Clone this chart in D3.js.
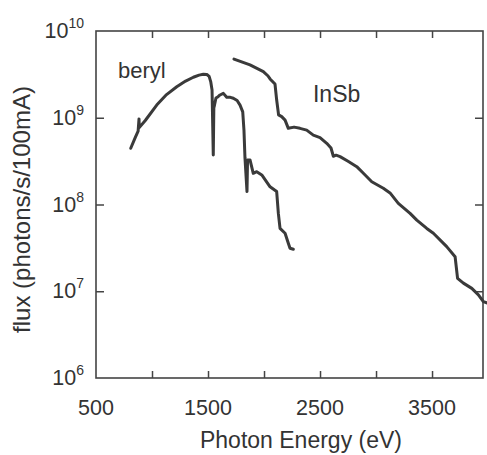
<!DOCTYPE html>
<html>
<head>
<meta charset="utf-8">
<script src="https://cdn.jsdelivr.net/npm/d3@7"></script>
<style>
	body { margin: 0; background: #fff; }
	svg { display: block; font-family: "Liberation Sans", Arial, Helvetica, sans-serif; }
	.axis line { stroke: #444; stroke-width: 1.5; }
	.axis path { display: none; }
	.tick-label { fill: #333; font-size: 21.5px; }
	.curve { fill: none; stroke: #3a3a3a; stroke-width: 3; stroke-linejoin: round; stroke-linecap: round; }
</style>
</head>
<body>
<div id="chart"></div>
<script>

// beryl crystal
const berylEnergy = [810, 850, 876, 884, 886, 940, 1042, 1130, 1221, 1300, 1369, 1420, 1458, 1490, 1510, 1524, 1536, 1547, 1552, 1558,
	1571, 1590, 1607, 1637, 1667, 1700, 1726, 1760, 1786, 1810, 1821, 1830, 1848, 1853, 1875, 1904, 1935, 1980, 2054, 2113,
	2128, 2143, 2188, 2217, 2232, 2262];
const berylFlux = [4.45e8, 5.9e8, 7.0e8, 9.7e8, 7.7e8, 9.3e8, 1.40e9, 1.85e9, 2.28e9, 2.65e9, 2.93e9, 3.1e9, 3.17e9, 3.15e9, 3.0e9, 2.61e9, 2.09e9, 3.72e8, 1.3e9, 1.40e9,
	1.69e9, 1.75e9, 1.83e9, 1.91e9, 1.72e9, 1.72e9, 1.68e9, 1.58e9, 1.40e9, 1.17e9, 7.2e8, 3.44e8, 1.41e8, 3.26e8, 3.26e8, 2.29e8, 2.39e8, 2.19e8, 1.60e8, 1.41e8,
	7.9e7, 5.3e7, 4.66e7, 3.57e7, 3.13e7, 3.05e7];

// InSb crystal
const insbEnergy = [1732, 1875, 1994, 2036, 2054, 2098, 2113, 2130, 2158, 2188, 2217, 2268, 2321, 2381, 2440, 2500, 2560, 2598, 2619, 2643,
	2679, 2750, 2828, 2887, 2962, 3065, 3125, 3199, 3304, 3364, 3453, 3512, 3631, 3706, 3728, 3780, 3855, 3914, 3958, 3994];
const insbFlux = [4.75e9, 4.06e9, 3.40e9, 3.03e9, 2.80e9, 2.45e9, 1.60e9, 1.08e9, 1.03e9, 9.4e8, 7.55e8, 7.8e8, 7.55e8, 7.2e8, 6.3e8, 5.9e8, 5.07e8, 4.48e8, 3.6e8, 3.7e8,
	3.56e8, 3.15e8, 2.73e8, 2.29e8, 1.83e8, 1.54e8, 1.36e8, 1.03e8, 7.9e7, 6.6e7, 5.3e7, 4.66e7, 3.27e7, 2.50e7, 1.41e7, 1.24e7, 1.08e7, 9.1e6, 7.6e6, 7.3e6];

// axes
const xDomain = [500, 3955];
const xTicks = [1000, 1500, 2000, 2500, 3000, 3500];
const xTickLabels = [500, 1500, 2500, 3500];
const yDomain = [1e6, 1e10];
const yTicks = [1e7, 1e8, 1e9];
const yTickLabels = [1e6, 1e7, 1e8, 1e9, 1e10];

// curve names, placed in data units
const seriesLabels = [
	{name: "beryl", energy: 696, flux: 2.87e9, size: 22},
	{name: "InSb", energy: 2437, flux: 1.52e9, size: 23}
];

const margin = {top: 31, right: 4, bottom: 77, left: 96};
const width = 487 - margin.left - margin.right;
const height = 455 - margin.top - margin.bottom;

const svg = d3.select("#chart").append("svg")
	.attr("width", width + margin.left + margin.right)
	.attr("height", height + margin.top + margin.bottom)
	.append("g")
	.attr("transform", "translate(" + margin.left + "," + margin.top + ")");

const x = d3.scaleLinear().domain(xDomain).range([0, width]);
const y = d3.scaleLog().domain(yDomain).range([height, 0]);

// inward ticks on all four sides
svg.append("g").attr("class", "axis")
	.attr("transform", "translate(0," + height + ")")
	.call(d3.axisBottom(x).tickValues(xTicks).tickSize(-7).tickFormat(""));
svg.append("g").attr("class", "axis")
	.call(d3.axisTop(x).tickValues(xTicks).tickSize(-7).tickFormat(""));
svg.append("g").attr("class", "axis")
	.call(d3.axisLeft(y).tickValues(yTicks).tickSize(-8).tickFormat(""));
svg.append("g").attr("class", "axis")
	.attr("transform", "translate(" + width + ",0)")
	.call(d3.axisRight(y).tickValues(yTicks).tickSize(-8).tickFormat(""));

// frame
svg.append("rect")
	.attr("width", width)
	.attr("height", height)
	.attr("fill", "none")
	.attr("stroke", "#444")
	.attr("stroke-width", 1.6);

// x tick labels
svg.selectAll(".x-label").data(xTickLabels).enter().append("text")
	.attr("class", "tick-label")
	.attr("x", d => x(d))
	.attr("y", height + 37)
	.attr("text-anchor", "middle")
	.text(d => d);

// y tick labels: 10 with superscript exponent
const yLab = svg.selectAll(".y-label").data(yTickLabels).enter().append("text")
	.attr("class", "tick-label")
	.attr("x", -12)
	.attr("y", d => y(d) + 7)
	.attr("text-anchor", "end");
yLab.append("tspan").text("10");
yLab.append("tspan")
	.attr("dy", -10)
	.attr("font-size", "14px")
	.text(d => Math.round(Math.log10(d)));

// curves
const line = d3.line()
	.x(d => x(d[0]))
	.y(d => y(d[1]));

svg.append("path")
	.attr("class", "curve")
	.attr("d", line(d3.zip(berylEnergy, berylFlux)));

svg.append("path")
	.attr("class", "curve")
	.attr("d", line(d3.zip(insbEnergy, insbFlux)));

svg.selectAll(".series-label").data(seriesLabels).enter().append("text")
	.attr("class", "series-label")
	.attr("x", d => x(d.energy))
	.attr("y", d => y(d.flux))
	.attr("fill", "#333")
	.attr("font-size", d => d.size + "px")
	.text(d => d.name);

// axis titles
svg.append("text")
	.attr("x", x(2330))
	.attr("y", height + 70)
	.attr("text-anchor", "middle")
	.attr("fill", "#333")
	.attr("font-size", "23px")
	.text("Photon Energy (eV)");

svg.append("text")
	.attr("transform", "translate(" + (-66) + "," + (height / 2 + 5) + ") rotate(-90)")
	.attr("text-anchor", "middle")
	.attr("fill", "#333")
	.attr("font-size", "24px")
	.text("flux (photons/s/100mA)");

</script>
</body>
</html>
